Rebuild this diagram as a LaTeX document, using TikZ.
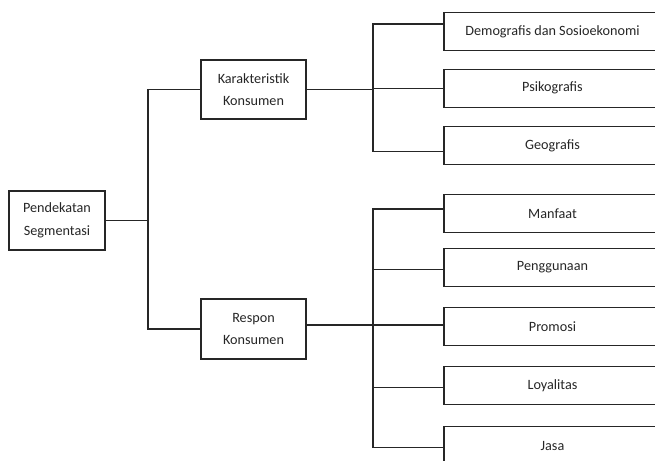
\documentclass[tikz,border=0pt]{standalone}
\usepackage{fontspec}
\setmainfont{Carlito}
\begin{document}
\begin{tikzpicture}[x=1pt,y=-1pt,
  box/.style={draw=black!85,line width=1.1pt,rectangle,inner sep=0pt,align=center,
    font=\fontsize{14.2}{22.5}\selectfont,text=black!85},
  leaf/.style={box,minimum width=217pt,minimum height=38pt},
  mid/.style={box,minimum width=105pt,minimum height=59pt},
  link/.style={draw=black!85,line width=1.1pt}]
\clip (0,0) rectangle (655,460);
\useasboundingbox (0,0) rectangle (655,460);

% root and second level
\node[box,minimum width=96pt,minimum height=59pt] (pend) at (57,220.5) {Pendekatan\\Segmentasi};
\node[mid] (kar) at (253.5,89.5) {Karakteristik\\Konsumen};
\node[mid,minimum height=60pt] (res) at (253.5,329) {Respon\\Konsumen};

% leaves
\node[leaf] (demo) at (552.5,31.7)  {Demografis dan Sosioekonomi};
\node[leaf] (psi)  at (552.5,88.2)  {Psikografis};
\node[leaf] (geo)  at (552.5,145.5) {Geografis};
\node[leaf] (man)  at (552.5,213.3) {Manfaat};
\node[leaf] (peng) at (552.5,267.5) {Penggunaan};
\node[leaf] (pro)  at (552.5,326.5) {Promosi};
\node[leaf] (loy)  at (552.5,385.5) {Loyalitas};
\node[leaf] (jas)  at (552.5,445.7) {Jasa};

% trunk positions
\coordinate (ta) at (148,0);
\coordinate (tb) at (373,0);

% root to second level
\draw[link] (pend.east) -- (pend.east -| ta);
\draw[link] (kar.west) -- (kar.west -| ta) -- (ta |- res.west) -- (res.west);

% first group
\coordinate (d1) at ([yshift=7.7pt]demo.west);
\coordinate (g1) at ([yshift=-6.2pt]geo.west);
\draw[link] (kar.east) -- (kar.east -| tb);
\draw[link] (d1) -- (d1 -| tb) -- (tb |- g1) -- (g1);
\draw[link] (psi.west) -- (psi.west -| tb);

% second group
\coordinate (m1) at ([yshift=4.3pt]man.west);
\coordinate (p1) at ([yshift=-1.8pt]peng.west);
\coordinate (r1) at ([yshift=1.5pt]pro.west);
\coordinate (l1) at ([yshift=-1.8pt]loy.west);
\coordinate (j1) at ([yshift=-1.6pt]jas.west);
\coordinate (e1) at ([yshift=4pt]res.east);
\draw[link] (e1) -- (e1 -| tb);
\draw[link] (m1) -- (m1 -| tb) -- (tb |- j1) -- (j1);
\draw[link] (p1) -- (p1 -| tb);
\draw[link] (r1) -- (r1 -| tb);
\draw[link] (l1) -- (l1 -| tb);
\end{tikzpicture}
\end{document}
